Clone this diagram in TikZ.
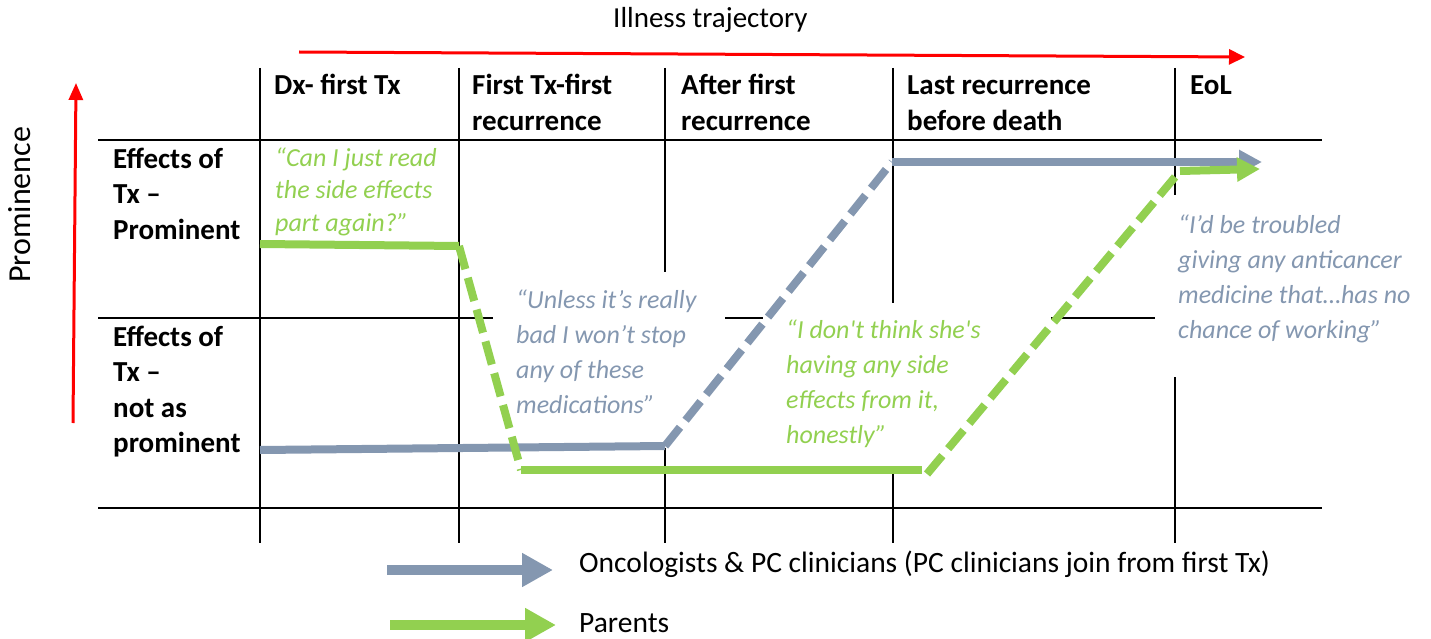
\documentclass[tikz,border=0pt]{standalone}
\usepackage{fontspec}
\setmainfont{Carlito}[Ligatures=TeXOff]
\usetikzlibrary{arrows.meta}
\definecolor{clin}{HTML}{8497B0}
\definecolor{par}{HTML}{92D050}
\definecolor{axisred}{HTML}{FF0000}

\begin{document}
\begin{tikzpicture}[x=1pt,y=-1pt,
  gridline/.style={line width=2pt, black},
  trail/.style={line width=8pt},
  dashtrail/.style={line width=8pt, dash pattern=on 24pt off 9pt},
  trailhead/.style={-{Triangle[length=23pt,width=23pt]}},
  keyarrow/.style={line width=10pt, -{Triangle[length=31pt,width=32pt]}},
  axis/.style={line width=3pt, axisred, -{Triangle[length=16pt,width=15pt]}},
  % multi-line texts are placed by the baseline of their last line
  colhead/.style={anchor=base west, inner sep=0pt, align=left,
    font=\fontsize{29}{36}\selectfont\bfseries},
  rowhead/.style={anchor=base west, inner sep=0pt, align=left,
    font=\fontsize{29}{35.5}\selectfont\bfseries},
  quote/.style={anchor=base west, inner sep=0pt, align=left,
    font=\fontsize{26}{35}\selectfont\itshape},
  plain/.style={anchor=base west, inner sep=0pt,
    font=\fontsize{29.5}{35}\selectfont}
]
\useasboundingbox (0,0) rectangle (1431,639);

% ---- table grid (broken where the quotes sit) ----
\draw[gridline] (98,140) -- (1322,140);
\draw[gridline] (98,508) -- (1322,508);
\draw[gridline] (98,318) -- (493,318);
\draw[gridline] (725,318) -- (763,318);
\draw[gridline] (1051,318) -- (1155,318);
\draw[gridline] (260,68) -- (260,543);
\draw[gridline] (459,68) -- (459,543);
\draw[gridline] (665,68) -- (665,272);
\draw[gridline] (665,448) -- (665,543);
\draw[gridline] (893,68) -- (893,303);
\draw[gridline] (893,474) -- (893,543);
\draw[gridline] (1175,68) -- (1175,195);
\draw[gridline] (1175,377) -- (1175,543);

% ---- axes ----
\node[plain, font=\fontsize{29}{35}\selectfont] (title) at (613,28) {Illness trajectory};
\coordinate (tx0) at (299,52);
\coordinate (tx1) at (1245,57);
\draw[axis] (tx0) -- (tx1);
\node[anchor=base west, inner sep=0pt, rotate=90,
  font=\fontsize{32}{36}\selectfont] (prom) at (30,283) {Prominence};
\coordinate (ty0) at (73,423);
\coordinate (ty1) at (76,83);
\draw[axis,-{Triangle[length=17pt,width=14pt]}] (ty0) -- (ty1);

% ---- headers ----
\node[colhead] (c1) at (274,95) {Dx- first Tx};
\node[colhead] (c2) at (472,131) {First Tx-first\\recurrence};
\node[colhead] (c3) at (681,131) {After first\\recurrence};
\node[colhead] (c4) at (907,131) {Last recurrence\\before death};
\node[colhead] (c5) at (1190,95) {EoL};
\node[rowhead] (r1) at (113,239) {Effects of\\Tx –\\Prominent};
\node[rowhead] (r2) at (113,452.5) {Effects of\\Tx –\\not as\\prominent};

% ---- quotes ----
\node[quote, text=par, font=\fontsize{26}{32.5}\selectfont\itshape] (q1) at (275,231)
  {“Can I just read\\the side effects\\part again?”};
\node[quote, text=clin] (q2) at (516,413)
  {“Unless it’s really\\bad I won’t stop\\any of these\\medications”};
\node[quote, text=par] (q3) at (786,443)
  {“I don't think she's\\having any side\\effects from it,\\honestly”};
\node[quote, text=clin] (q4) at (1178,338)
  {“I’d be troubled\\giving any anticancer\\medicine that…has no\\chance of working”};

% ---- oncologists & PC clinicians trajectory ----
\coordinate (b0) at (260,450);
\coordinate (b1) at (665,446);
\coordinate (b2) at (892,162);
\coordinate (b3) at (1262,162);
\draw[trail, clin] (b0) -- (b1);
\draw[dashtrail, clin] (b1) -- (b2);
\draw[trail, clin, trailhead] (b2) -- (b3);

% ---- parents trajectory ----
\coordinate (g0) at (260,244);
\coordinate (g1) at (459,246);
\coordinate (g2) at (521,470);
\coordinate (g3) at (922,470);
\coordinate (g4) at (927,474);
\coordinate (g5) at (1180,171);
\coordinate (g6) at (1260,169);
\draw[trail, par] (g0) -- (g1);
\draw[dashtrail, par] (g1) -- (g2);
\draw[trail, par] (g2) -- (g3);
\draw[dashtrail, par] (g4) -- (g5);
\draw[trail, par, trailhead] (g5) -- (g6);

% ---- legend ----
\coordinate (kb0) at (387,570);
\coordinate (kb1) at (553,570);
\draw[keyarrow, clin] (kb0) -- (kb1);
\node[plain] (kbl) at (579,572) {Oncologists \& PC clinicians (PC clinicians join from first Tx)};
\coordinate (kg0) at (390,625);
\coordinate (kg1) at (556,625);
\draw[keyarrow, par] (kg0) -- (kg1);
\node[plain] (kgl) at (579,632) {Parents};
\end{tikzpicture}
\end{document}
